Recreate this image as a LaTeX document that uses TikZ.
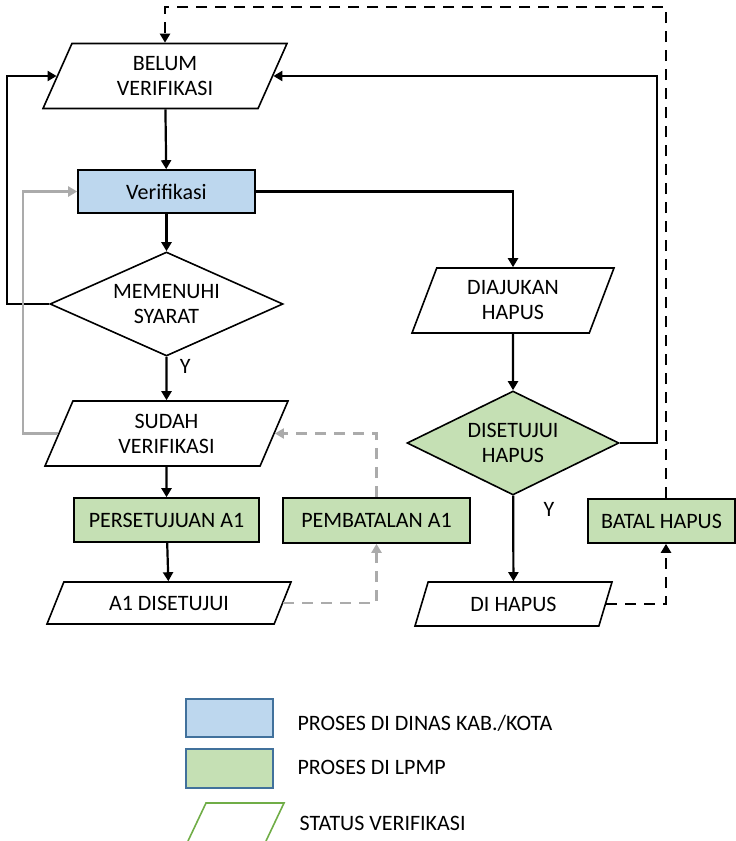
\documentclass[tikz,border=0pt]{standalone}
\usepackage{fontspec}
\setmainfont{Carlito}
\usetikzlibrary{shapes.geometric,arrows.meta}

\definecolor{prosesbiru}{HTML}{BDD7EE}
\definecolor{proseshijau}{HTML}{C5E0B4}
\definecolor{tepibiru}{HTML}{41719C}
\definecolor{garishijau}{HTML}{70AD47}
\definecolor{abu}{HTML}{ABABAB}

\begin{document}
\begin{tikzpicture}[x=1pt,y=-1pt,
  font=\fontsize{22}{25}\selectfont,
  box/.style={draw,line width=1.6pt,inner sep=0pt,align=center},
  kotak/.style={box,rectangle,minimum height=44},
  status/.style={box,trapezium,trapezium stretches body},
  cek/.style={box,diamond,shape aspect=2.2,minimum width=233,minimum height=104},
  alur/.style={line width=2.2pt,-{Triangle[length=9pt,width=10pt]}},
  batal/.style={alur,dash pattern=on 11pt off 8pt},
  batalabu/.style={batal,draw=abu,color=abu},
  legenda/.style={draw=tepibiru,line width=1.6pt,minimum width=87,minimum height=38,inner sep=0pt}]
\useasboundingbox (0,0) rectangle (736,841);

% kolom kiri
\node[status,minimum width=244,minimum height=65,trapezium left angle=53.6,trapezium right angle=126.4] (belum) at (165,76) {BELUM\\VERIFIKASI};
\node[kotak,fill=prosesbiru,minimum width=177,minimum height=43] (verif) at (166.5,191.5) {Verifikasi};
\node[cek] (syarat) at (166.5,304) {MEMENUHI\\SYARAT};
\node[status,minimum width=243,minimum height=65,trapezium left angle=54.7,trapezium right angle=125.3] (sudah) at (166.5,433.5) {SUDAH\\VERIFIKASI};
\node[kotak,fill=proseshijau,minimum width=185] (setuju) at (166.5,520) {PERSETUJUAN A1};
\node[kotak,fill=proseshijau,minimum width=187,minimum height=45] (batalA) at (376.5,520.5) {PEMBATALAN A1};
\node[status,minimum width=244,minimum height=42,trapezium left angle=40.6,trapezium right angle=139.4] (aset) at (169,603) {A1 DISETUJUI};

% kolom kanan
\node[status,minimum width=202,minimum height=65,trapezium left angle=57.8,trapezium right angle=122.2] (ajukan) at (513,300.5) {DIAJUKAN\\HAPUS};
\node[cek,fill=proseshijau,minimum width=212,shape aspect=2] (sethapus) at (513,443) {DISETUJUI\\HAPUS};
\node[status,minimum width=197,minimum height=44,trapezium left angle=47.7,trapezium right angle=132.3] (dihapus) at (513.5,604) {DI HAPUS};
\node[kotak,fill=proseshijau,minimum width=147] (batalH) at (661.5,521) {BATAL HAPUS};

\draw[alur] (belum) -- (verif);
\draw[alur] (verif) -- (syarat);
\draw[alur] (syarat) -- node[pos=0.22,right,xshift=9pt]{Y} (sudah);
\draw[alur] (sudah) -- (setuju);
\draw[alur] (setuju) -- (aset);
\draw[alur] (syarat.west) -- ++(-42,0) |- (belum.west);
\draw[alur,draw=abu,color=abu] (sudah.west) -- ++(-35,0) |- (verif.west);
\draw[alur] (verif.east) -| (ajukan.north);
\draw[alur] (ajukan) -- (sethapus);
\draw[alur] (sethapus.east) -- ++(37,0) |- (belum.east);
\draw[alur] (sethapus) -- node[pos=0.16,right,xshift=26pt]{Y} (dihapus);
\draw[batal] (dihapus.east) -| ([xshift=4.5pt]batalH.south);
\draw[batal] ([xshift=4.5pt]batalH.north) -- ++(0,-491) -| (belum.north);
\draw[batalabu] (aset.east) -| (batalA.south);
\draw[batalabu] (batalA.north) |- (sudah.east);

% keterangan
\node[legenda,fill=prosesbiru] (lbiru) at (229.5,718) {};
\node[legenda,fill=proseshijau,minimum height=39] (lhijau) at (229.5,768.5) {};
\node[anchor=west] at (294,723) {PROSES DI DINAS KAB./KOTA};
\node[anchor=west] at (294,767) {PROSES DI LPMP};
\draw[garishijau,line width=1.6pt] (188,841) -- (206,803) -- (284,803) -- (266,841);
\node[anchor=west] at (296,823) {STATUS VERIFIKASI};

\end{tikzpicture}
\end{document}
